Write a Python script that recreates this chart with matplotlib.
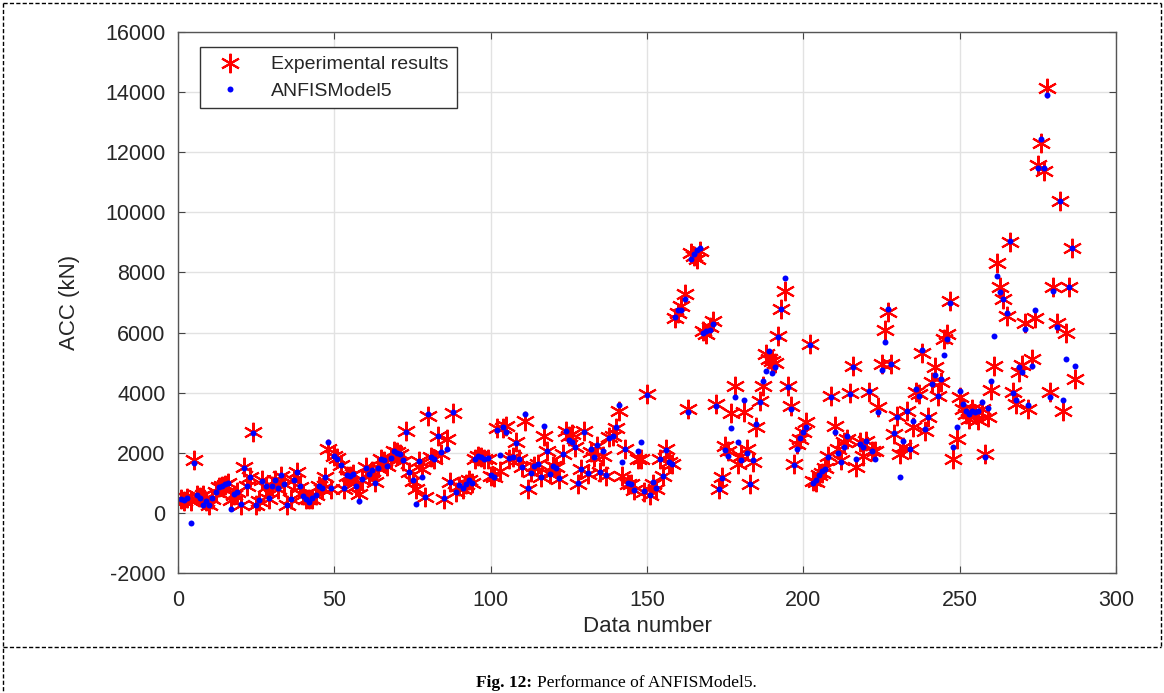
#!/usr/bin/env python3
# -*- coding: utf-8 -*-
import matplotlib
matplotlib.use("Agg")
import matplotlib.pyplot as plt
from matplotlib.lines import Line2D
import numpy as np

# values, data number 1..287
experimental = [
    450, 400, 500, 380, 1770, 600, 520, 580, 400, 250,
    470, 700, 850, 900, 940, 1000, 420, 600, 700, 270,
    1540, 900, 1190, 2690, 250, 400, 1080, 870, 470, 900,
    1080, 810, 1240, 970, 250, 470, 1080, 1350, 870, 580,
    470, 470, 470, 580, 910, 810, 1190, 2130, 800, 1900,
    1820, 1590, 800, 1240, 1240, 1300, 910, 640, 1100, 1520,
    1300, 1410, 1020, 1500, 1790, 1740, 1570, 1800, 2070, 2020,
    1960, 1740, 2730, 1350, 1070, 800, 1740, 1460, 520, 3230,
    1850, 1790, 2570, 1960, 470, 2460, 1020, 3340, 690, 910,
    800, 960, 1080, 1000, 1790, 1900, 1850, 1790, 1800, 1240,
    1190, 2840, 1410, 2840, 2900, 1800, 1850, 2350, 1790, 1520,
    3060, 800, 1350, 1570, 1630, 1190, 2570, 2070, 1300, 1570,
    1520, 1130, 1960, 2730, 2570, 2620, 2200, 960, 1460, 2730,
    1300, 2020, 1850, 2240, 1350, 1900, 1240, 2510, 2570, 2840,
    3390, 1240, 2130, 960, 960, 750, 1800, 1790, 700, 3940,
    580, 960, 800, 1790, 1230, 2120, 1680, 1630, 6480, 6640,
    6900, 7270, 3450, 8650, 8550, 8450, 8700, 6060, 5950, 6200,
    6390, 3620, 800, 1190, 2240, 2070, 3320, 4230, 1630, 1900,
    3350, 2120, 960, 1680, 2850, 3730, 4230, 5280, 5120, 5060,
    5000, 5890, 6780, 7390, 4230, 3560, 1630, 2300, 2460, 2680,
    3010, 5610, 1070, 1020, 1270, 1340, 1500, 1900, 3900, 2900,
    2120, 1750, 2350, 2450, 3990, 4890, 1520, 2350, 1900, 2400,
    4010, 2070, 2050, 3510, 4950, 6090, 6670, 4950, 2620, 3230,
    1960, 2200, 3380, 2130, 2860, 4010, 3950, 5320, 2730, 3180,
    4340, 4840, 3900, 4360, 5780, 5960, 7050, 1790, 2460, 3840,
    3450, 3300, 3120, 3450, 3300, 3100, 3450, 1960, 3200, 4100,
    4890, 8300, 7500, 7110, 6560, 9010, 4010, 3620, 4700, 4920,
    6310, 3450, 5120, 6500, 11590, 12310, 11370, 14140, 4010, 7500,
    6310, 10380, 3400, 5970, 7500, 8800, 4470,
]

anfis_model5 = [
    450, 420, 480, -330, 1660, 580, 500, 270, 400, 260,
    480, 680, 870, 900, 960, 980, 120, 620, 700, 280,
    1500, 900, 1200, 2650, 260, 420, 1060, 880, 480, 900,
    1100, 820, 1250, 960, 260, 460, 1100, 1360, 880, 560,
    470, 360, 480, 580, 900, 820, 1200, 2350, 820, 1880,
    1800, 1600, 820, 1250, 1220, 1300, 900, 410, 1120, 1500,
    1300, 1420, 1000, 1500, 1800, 1750, 1560, 1820, 2050, 2000,
    1950, 1760, 2700, 1360, 1080, 300, 1720, 1190, 540, 3300,
    1850, 1780, 2550, 2020, 480, 2130, 1040, 3360, 700, 920,
    820, 950, 1100, 1000, 1800, 1900, 1860, 1780, 1820, 1250,
    1200, 2750, 1930, 2850, 2690, 1820, 1850, 2330, 1800, 1520,
    3300, 820, 1340, 1560, 1640, 1200, 2900, 2050, 1300, 1560,
    1500, 1150, 1950, 2720, 2410, 2350, 2200, 980, 1460, 2700,
    1320, 2130, 1850, 2250, 1360, 2070, 1250, 2500, 2560, 2850,
    3580, 1680, 2130, 980, 960, 760, 2070, 2350, 720, 3920,
    600, 1020, 820, 1780, 1240, 2100, 1690, 1620, 6530, 6750,
    6750, 7100, 3350, 8450, 8600, 8750, 8800, 6000, 6050, 6100,
    6300, 3550, 800, 1150, 2100, 1900, 2810, 3840, 2370, 1750,
    3750, 2000, 960, 1750, 2960, 3700, 4390, 4730, 5400, 4650,
    4870, 5850, 6800, 7800, 4200, 3450, 1600, 2140, 2500, 2700,
    2850, 5600, 1000, 1100, 1270, 1400, 1450, 1850, 3850, 2680,
    2000, 1680, 2200, 2570, 3950, 4850, 1790, 2300, 2200, 2400,
    4050, 2050, 1790, 3350, 4760, 5700, 6780, 4950, 2650, 3200,
    1190, 2400, 3380, 2130, 3050, 4120, 3900, 5420, 2800, 3180,
    4300, 4600, 3900, 4460, 5250, 5800, 7000, 2180, 2870, 4060,
    3610, 3400, 3300, 3400, 3350, 3400, 3680, 1850, 3480, 4400,
    5870, 7880, 7350, 7110, 6650, 9050, 4000, 3750, 4850, 4700,
    6120, 3580, 4900, 6750, 11480, 12450, 11480, 13900, 3870, 7390,
    6200, 10380, 3770, 5120, 7500, 8800, 4900,
]

data_number = np.arange(1, len(experimental) + 1)
x_ticks = [0, 50, 100, 150, 200, 250, 300]
y_ticks = [-2000, 0, 2000, 4000, 6000, 8000, 10000, 12000, 14000, 16000]

W, H = 1164, 693
plt.rcParams['font.family'] = ['Liberation Sans', 'DejaVu Sans']
plt.rcParams['axes.unicode_minus'] = False
fig = plt.figure(figsize=(W / 100, H / 100), dpi=100)

# axes box in pixels: left 178, right 1116, top 32, bottom 573
ax = fig.add_axes([178 / W, (H - 573) / H, (1116 - 178) / W, (573 - 32) / H])

# MATLAB style asterisk: 6 arms
ax.plot(data_number, experimental, linestyle='none', marker=(6, 2, 0),
        markersize=14, markeredgewidth=1.5, color='#ff0000',
        label='Experimental results')
ax.plot(data_number, anfis_model5, linestyle='none', marker='o',
        markersize=4.3, markeredgewidth=0, color='#0000ff',
        label='ANFISModel5')

ax.set_xlim(0, 300)
ax.set_ylim(-2000, 16000)
ax.set_xticks(x_ticks)
ax.set_yticks(y_ticks)
ax.grid(True, color='#e2e2e2', linewidth=1.0)
ax.set_axisbelow(True)
ax.tick_params(direction='in', top=True, right=True, length=5, width=0.8,
               colors='#444444', labelsize=15.5, labelcolor='#262626')
ax.tick_params(axis='x', pad=12)
ax.tick_params(axis='y', pad=9)
for s in ax.spines.values():
    s.set_color('#555555')
    s.set_linewidth(1.0)

ax.set_xlabel('Data number', fontsize=16, color='#262626', labelpad=4)
ax.set_ylabel('ACC (kN)', fontsize=16, color='#262626', labelpad=18)

leg = ax.legend(loc='upper left', bbox_to_anchor=(22 / 938, 1 - 15 / 541),
                fontsize=14, frameon=True, fancybox=False, framealpha=1,
                edgecolor='#333333', borderpad=0.45, labelspacing=0.45,
                handletextpad=1.0, handlelength=2.2, borderaxespad=0)
leg.get_frame().set_linewidth(1.0)
for t in leg.get_texts():
    t.set_color('#262626')

# dashed border of the figure panel
dash = (0, (3, 1.6))
fx = lambda px: px / W
fy = lambda py: (H - py) / H
fig.add_artist(Line2D([fx(3), fx(1161)], [fy(3), fy(3)], color='black', lw=1, linestyle=dash))
fig.add_artist(Line2D([fx(3), fx(1161)], [fy(647), fy(647)], color='black', lw=1, linestyle=dash))
fig.add_artist(Line2D([fx(3), fx(3)], [fy(3), fy(693)], color='black', lw=1, linestyle=dash))
fig.add_artist(Line2D([fx(1161), fx(1161)], [fy(3), fy(647)], color='black', lw=1, linestyle=dash))

# caption: bold "Fig. 12:" then regular text
cap_y = fy(683)
fig.text(fx(532), cap_y, 'Fig. 12:', fontsize=12.5, fontweight='bold',
         family=['Liberation Serif'], ha='right', va='center')
fig.text(fx(537), cap_y, 'Performance of ANFISModel5.', fontsize=12.5,
         family=['Liberation Serif'], ha='left', va='center')

fig.savefig('out.png', dpi=100)
